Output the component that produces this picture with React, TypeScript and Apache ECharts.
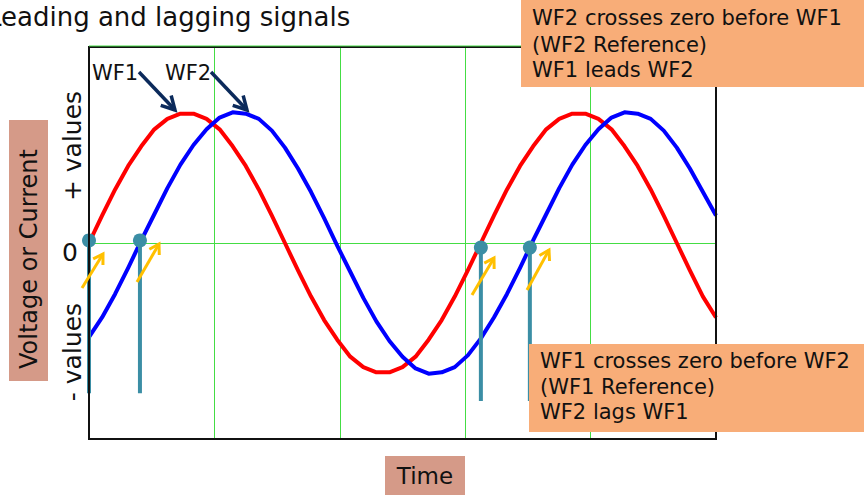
import React, { useEffect, useRef } from "react";
import * as echarts from "echarts";

// Phase angle in degrees (time axis), every 12 degrees
const timeDeg = [
  0, 12, 24, 36, 48, 60, 72, 84, 96, 108, 120, 132, 144, 156, 168, 180, 192, 204, 216, 228, 240, 252, 264, 276, 288,
  300, 312, 324, 336, 348, 360, 372, 384, 396, 408, 420, 432, 444, 456, 468, 480, 492, 504, 516, 528, 540, 552, 564, 576,
];
// WF1 (red) values
const wf1 = [
  0, 0.21, 0.41, 0.59, 0.74, 0.87, 0.95, 0.99, 0.99, 0.95, 0.87, 0.74, 0.59, 0.41, 0.21, 0,
  -0.21, -0.41, -0.59, -0.74, -0.87, -0.95, -0.99, -0.99, -0.95, -0.87, -0.74, -0.59, -0.41, -0.21, 0,
  0.21, 0.41, 0.59, 0.74, 0.87, 0.95, 0.99, 0.99, 0.95, 0.87, 0.74, 0.59, 0.41, 0.21, 0,
  -0.21, -0.41, -0.57,
];
// WF2 (blue) values
const wf2 = [
  -0.72, -0.57, -0.39, -0.19, 0.02, 0.22, 0.42, 0.6, 0.75, 0.87, 0.96, 1.0, 0.99, 0.95, 0.86, 0.73, 0.57, 0.39, 0.19,
  -0.02, -0.22, -0.42, -0.6, -0.75, -0.87, -0.96, -1.0, -0.99, -0.95, -0.86, -0.73, -0.57, -0.39, -0.19,
  0.02, 0.22, 0.42, 0.6, 0.75, 0.87, 0.96, 1.0, 0.99, 0.95, 0.86, 0.73, 0.57, 0.39, 0.21,
];
// Zero-crossing markers: x position, y of dot, y of stem end
const crossX = [0, 46.8, 360, 405];
const crossY = [0.02, 0.02, -0.035, -0.035];
const stemEnd = [-1.15, -1.15, -1.21, -1.21];

const FONT = "DejaVu Sans, Verdana, sans-serif";

function arrow(x1: number, y1: number, x2: number, y2: number, color: string, w: number, head: number, spread: number) {
  const a = Math.atan2(y2 - y1, x2 - x1);
  const p1 = [x2 - head * Math.cos(a - spread), y2 - head * Math.sin(a - spread)];
  const p2 = [x2 - head * Math.cos(a + spread), y2 - head * Math.sin(a + spread)];
  return [
    { type: "line", z: 100, shape: { x1, y1, x2, y2 }, style: { stroke: color, lineWidth: w, lineCap: "butt" } },
    { type: "polyline", z: 100, shape: { points: [p1, [x2, y2], p2] }, style: { stroke: color, lineWidth: w, fill: null, lineJoin: "miter" } },
  ];
}

function txt(text: string, x: number, y: number, size: number, align = "left", rotation = 0) {
  return {
    type: "text",
    z: 120,
    x,
    y,
    rotation,
    style: { text, font: `${size}px ${FONT}`, fill: "#111", textAlign: align, textVerticalAlign: "middle" },
  };
}

export default function App() {
  const ref = useRef<HTMLDivElement>(null);
  useEffect(() => {
    if (!ref.current) return;
    const chart = echarts.init(ref.current, null, { renderer: "svg" });
    const series: any[] = [
      {
        type: "line",
        data: timeDeg.map((t, i) => [t, wf1[i]]),
        smooth: false,
        showSymbol: false,
        lineStyle: { color: "#ff0000", width: 4, join: "round" },
        z: 3,
      },
      {
        type: "line",
        data: timeDeg.map((t, i) => [t, wf2[i]]),
        smooth: false,
        showSymbol: false,
        lineStyle: { color: "#0000ff", width: 4, join: "round" },
        z: 3,
      },
    ];
    crossX.forEach((x, i) => {
      series.push({
        type: "line",
        data: [
          [x, crossY[i]],
          [x, stemEnd[i]],
        ],
        showSymbol: false,
        lineStyle: { color: "#3b8ea5", width: 4 },
        z: 5,
      });
    });
    series.push({
      type: "scatter",
      data: crossX.map((x, i) => [x, crossY[i]]),
      symbolSize: 14,
      itemStyle: { color: "#3b8ea5", opacity: 1 },
      z: 6,
    });

    const graphics: any[] = [
      // plot frame
      { type: "rect", z: 50, shape: { x: 89, y: 47, width: 627, height: 392 }, style: { fill: null, stroke: "#111", lineWidth: 2 } },
      { type: "line", z: 51, shape: { x1: 89, y1: 46, x2: 716, y2: 46 }, style: { stroke: "#44dd44", lineWidth: 1 } },
      // title
      txt("Leading and lagging signals", -13, 17, 26),
      // WF labels
      txt("WF1", 92, 73, 21),
      txt("WF2", 165, 73, 21),
      ...arrow(139, 72, 175, 110, "#0b2a5b", 3.5, 15, 0.5),
      ...arrow(211, 72, 247, 110, "#0b2a5b", 3.5, 15, 0.5),
      // yellow arrows
      ...arrow(82, 288, 103, 254, "#ffc000", 3, 11, 0.55),
      ...arrow(137, 282, 159, 244, "#ffc000", 3, 11, 0.55),
      ...arrow(472, 295, 494, 258, "#ffc000", 3, 11, 0.55),
      ...arrow(527, 290, 549, 250, "#ffc000", 3, 11, 0.55),
      // y label box
      { type: "rect", z: 110, shape: { x: 9, y: 120, width: 39, height: 261 }, style: { fill: "#d59a88" } },
      txt("Voltage or Current", 29, 259, 24, "center", Math.PI / 2),
      txt("+ values", 72, 146, 25, "center", Math.PI / 2),
      txt("- values", 72, 352, 25, "center", Math.PI / 2),
      txt("0", 70, 252, 25, "center"),
      // time box
      { type: "rect", z: 110, shape: { x: 385, y: 456, width: 80, height: 39 }, style: { fill: "#d59a88" } },
      txt("Time", 425, 476, 23, "center"),
      // top-right note
      { type: "rect", z: 110, shape: { x: 521, y: 0, width: 343, height: 87 }, style: { fill: "#f8ad78" } },
      txt("WF2 crosses zero before WF1", 532, 18, 21),
      txt("(WF2 Reference)", 532, 45, 21),
      txt("WF1 leads WF2", 532, 70, 21),
      // bottom-right note
      { type: "rect", z: 110, shape: { x: 529, y: 344, width: 335, height: 88 }, style: { fill: "#f8ad78" } },
      txt("WF1 crosses zero before WF2", 540, 361, 21),
      txt("(WF1 Reference)", 540, 387, 21),
      txt("WF2 lags WF1", 540, 412, 21),
    ];

    chart.setOption({
      animation: false,
      grid: { left: 89, top: 47, width: 627, height: 392, show: false },
      xAxis: {
        type: "value",
        min: 0,
        max: 576,
        interval: 115.2,
        axisLine: { show: false },
        axisTick: { show: false },
        axisLabel: { show: false },
        splitLine: { show: true, lineStyle: { color: "#44dd44", width: 1 } },
      },
      yAxis: {
        type: "value",
        min: -1.5,
        max: 1.5,
        interval: 1.5,
        axisLine: { show: false },
        axisTick: { show: false },
        axisLabel: { show: false },
        splitLine: { show: true, lineStyle: { color: "#44dd44", width: 1 } },
      },
      series,
      graphic: graphics,
    });
    return () => chart.dispose();
  }, []);
  return <div ref={ref} style={{ position: "fixed", left: 0, top: 0, width: 864, height: 495, background: "#fff" }} />;
}
